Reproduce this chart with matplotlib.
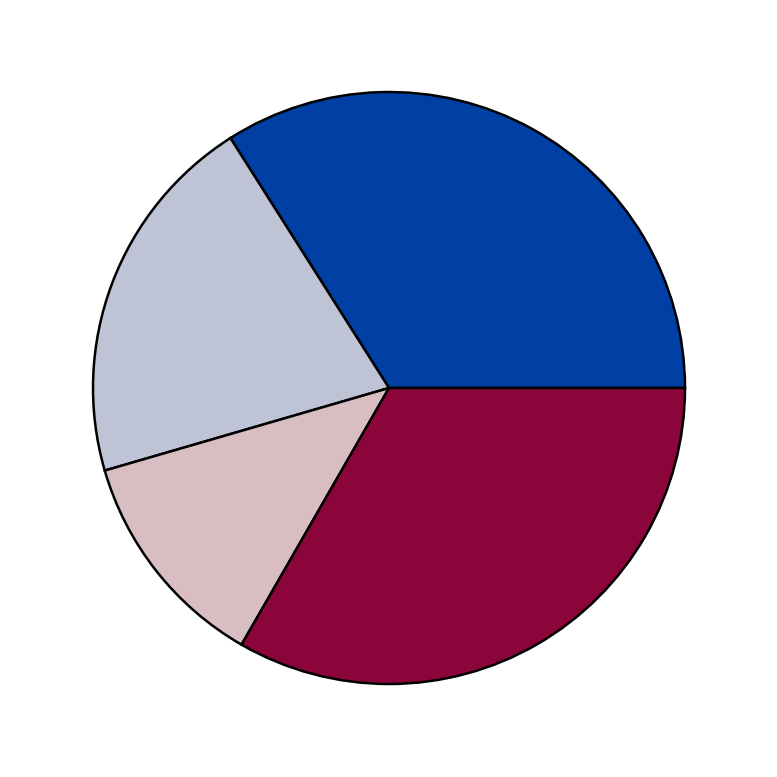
import matplotlib
matplotlib.use("Agg")
import matplotlib.pyplot as plt

labels = ["A", "B", "C", "D"]
values = [34.0, 20.5, 12.2, 33.3]
colors = ["#0040A4", "#BFC3D6", "#D8BDC2", "#8B053B"]

fig = plt.figure(figsize=(7.77, 7.77), dpi=100)
cx, cy, r = 389, 388, 296
ax = fig.add_axes([(cx - r) / 777, (777 - cy - r) / 777, 2 * r / 777, 2 * r / 777])
ax.pie(values, colors=colors, startangle=0, counterclock=True,
       wedgeprops=dict(edgecolor="black", linewidth=1.8), radius=1)
ax.set_xlim(-1, 1)
ax.set_ylim(-1, 1)
ax.set_aspect("equal")
ax.axis("off")
fig.savefig("out.png", dpi=100)
